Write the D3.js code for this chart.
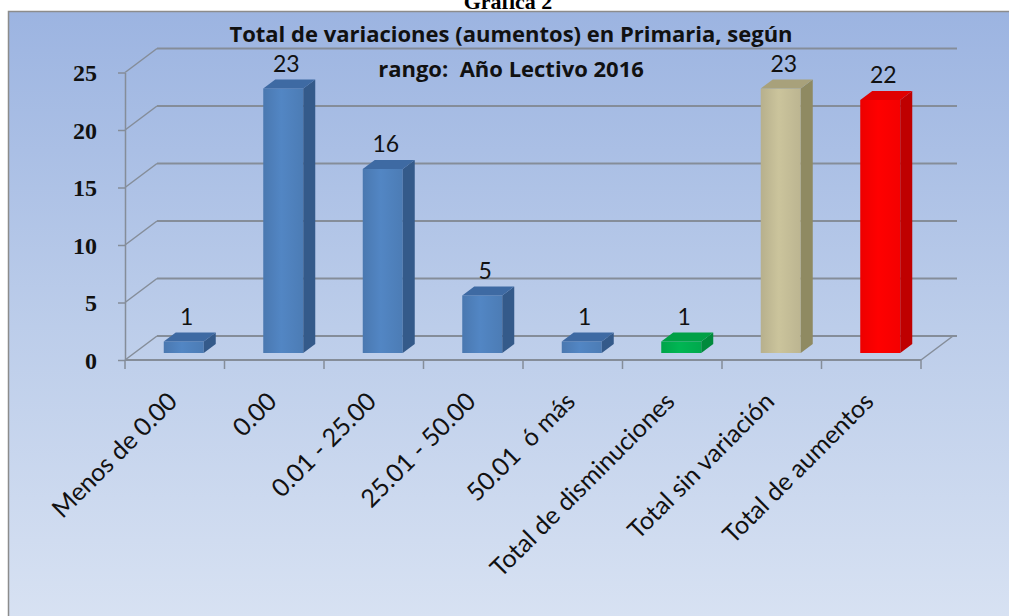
<!DOCTYPE html>
<html>
<head>
<meta charset="utf-8">
<script src="https://cdn.jsdelivr.net/npm/d3@7"></script>
<style>
  body { margin: 0; background: #fff; }
  svg { display: block; }
</style>
</head>
<body>
<svg id="chart"></svg>
<script>
let width = 1009;
let height = 616;

// datos
const categories = ["Menos de 0.00", "0.00", "0.01 - 25.00", "25.01 - 50.00", "50.01  ó más",
    "Total de disminuciones", "Total sin variación", "Total de aumentos"];
const values = [1, 23, 16, 5, 1, 1, 23, 22];
const yTicks = [0, 5, 10, 15, 20, 25];
const titleLines = ["Total de variaciones (aumentos) en Primaria, según", "rango:  Año Lectivo 2016"];
const caption = "Gráfica 2";

let barData = [];
for (let i = 0; i < categories.length; i++) {
    barData.push({ label: categories[i], value: values[i] });
}

// geometría del "3D"
let wallDx = 32, wallDy = -24;   // desplazamiento de la pared del fondo
let barDx = 9, barDy = -7;       // posición de las barras en profundidad
let sideDx = 12, sideDy = -9;    // grosor de las barras
let barW = 40;

let svg = d3.select("#chart")
    .attr("width", width)
    .attr("height", height);

let defs = svg.append("defs");

let bg = defs.append("linearGradient")
    .attr("id", "bg")
    .attr("x1", 0).attr("y1", 0).attr("x2", 0).attr("y2", 1);
bg.append("stop").attr("offset", "0%").attr("stop-color", "#9cb4e1");
bg.append("stop").attr("offset", "45%").attr("stop-color", "#bccdea");
bg.append("stop").attr("offset", "100%").attr("stop-color", "#e0e8f5");

// colores por categoría: frente, lado, tapa
let palette = d3.scaleOrdinal()
    .domain(categories)
    .range([
        ["#4f81bd", "#345a8a", "#3e6aa3"],
        ["#4f81bd", "#345a8a", "#3e6aa3"],
        ["#4f81bd", "#345a8a", "#3e6aa3"],
        ["#4f81bd", "#345a8a", "#3e6aa3"],
        ["#4f81bd", "#345a8a", "#3e6aa3"],
        ["#00b050", "#008a3c", "#00a046"],
        ["#c4bd97", "#8f8a62", "#a8a17b"],
        ["#ff0000", "#bf0000", "#e00000"]
    ]);

categories.forEach(function (c, i) {
    let cols = palette(c);
    let g = defs.append("linearGradient")
        .attr("id", "front" + i)
        .attr("x1", 0).attr("y1", 0).attr("x2", 1).attr("y2", 0);
    g.append("stop").attr("offset", "0%").attr("stop-color", d3.color(cols[0]).darker(0.2));
    g.append("stop").attr("offset", "45%").attr("stop-color", d3.color(cols[0]).brighter(0.1));
    g.append("stop").attr("offset", "100%").attr("stop-color", d3.color(cols[0]).darker(0.12));
});

// fondo del área del gráfico
svg.append("rect")
    .attr("x", 8.5)
    .attr("y", 11.5)
    .attr("width", 1100)
    .attr("height", 700)
    .attr("fill", "url(#bg)")
    .attr("stroke", "#8c8c8c")
    .attr("stroke-width", 1.5);

svg.append("text")
    .attr("x", 508)
    .attr("y", 9)
    .attr("text-anchor", "middle")
    .style("font-family", "'Liberation Serif', serif")
    .style("font-weight", "bold")
    .style("font-size", "22px")
    .text(caption);

// escalas (eje frontal)
let scaleX = d3.scaleBand()
    .domain(categories)
    .range([125, 921]);

let scaleY = d3.scaleLinear()
    .domain([0, 25])
    .range([360, 72.5]);

let gridColor = "#858d99";

// líneas de la pared y el suelo
let grid = svg.append("g");
grid.selectAll(".diag")
    .data(yTicks)
    .enter()
    .append("line")
    .attr("x1", scaleX.range()[0])
    .attr("y1", d => scaleY(d))
    .attr("x2", scaleX.range()[0] + wallDx)
    .attr("y2", d => scaleY(d) + wallDy)
    .attr("stroke", gridColor)
    .attr("stroke-width", 1.5);

grid.selectAll(".wall")
    .data(yTicks)
    .enter()
    .append("line")
    .attr("x1", scaleX.range()[0] + wallDx)
    .attr("y1", d => scaleY(d) + wallDy)
    .attr("x2", scaleX.range()[1] + wallDx + 4)
    .attr("y2", d => scaleY(d) + wallDy)
    .attr("stroke", gridColor)
    .attr("stroke-width", 2);

// borde derecho del suelo
grid.append("line")
    .attr("x1", scaleX.range()[1])
    .attr("y1", scaleY(0))
    .attr("x2", scaleX.range()[1] + wallDx)
    .attr("y2", scaleY(0) + wallDy)
    .attr("stroke", gridColor)
    .attr("stroke-width", 1.5);

// eje Y frontal
let axisY = d3.axisLeft(scaleY)
    .tickValues(yTicks)
    .tickSize(7)
    .tickSizeOuter(0)
    .tickPadding(21);

let gy = svg.append("g")
    .attr("transform", `translate(${scaleX.range()[0]}, 0)`)
    .call(axisY);
gy.select(".domain").attr("stroke", gridColor).attr("stroke-width", 1.5);
gy.selectAll(".tick line").attr("stroke", gridColor).attr("stroke-width", 1.5);
gy.selectAll(".tick text")
    .attr("font-family", "'Liberation Serif', 'DejaVu Serif', serif")
    .style("font-family", "'Liberation Serif', 'DejaVu Serif', serif")
    .style("font-weight", "bold")
    .style("font-size", "24px")
    .attr("fill", "#111")
    .attr("dy", "0.34em");

// eje X frontal: línea y marcas entre categorías
let edges = categories.map(d => scaleX(d)).concat([scaleX.range()[1]]);
svg.append("line")
    .attr("x1", scaleX.range()[0])
    .attr("y1", scaleY(0))
    .attr("x2", scaleX.range()[1])
    .attr("y2", scaleY(0))
    .attr("stroke", gridColor)
    .attr("stroke-width", 2);
svg.selectAll(".xtick")
    .data(edges)
    .enter()
    .append("line")
    .attr("x1", d => d)
    .attr("x2", d => d)
    .attr("y1", scaleY(0))
    .attr("y2", scaleY(0) + 9)
    .attr("stroke", gridColor)
    .attr("stroke-width", 1.5);

// barras
function cx(d) { return scaleX(d.label) + scaleX.bandwidth() / 2 + barDx; }
function yTop(d) { return scaleY(d.value) + barDy; }
let yBase = scaleY(0) + barDy;

let bars = svg.append("g").selectAll("g")
    .data(barData)
    .enter()
    .append("g");

bars.append("rect")
    .attr("x", d => cx(d) - barW / 2)
    .attr("y", d => yTop(d))
    .attr("width", barW)
    .attr("height", d => yBase - yTop(d))
    .attr("fill", (d, i) => `url(#front${i})`);

bars.append("path")
    .attr("d", function (d) {
        let x1 = cx(d) + barW / 2;
        return `M${x1},${yBase} L${x1 + sideDx},${yBase + sideDy} L${x1 + sideDx},${yTop(d) + sideDy} L${x1},${yTop(d)} Z`;
    })
    .attr("fill", d => palette(d.label)[1]);

bars.append("path")
    .attr("d", function (d) {
        let x0 = cx(d) - barW / 2, x1 = cx(d) + barW / 2, t = yTop(d);
        return `M${x0},${t} L${x1},${t} L${x1 + sideDx},${t + sideDy} L${x0 + sideDx},${t + sideDy} Z`;
    })
    .attr("fill", d => palette(d.label)[2]);

// etiquetas de valores
bars.append("text")
    .attr("x", d => cx(d) + 3)
    .attr("y", d => yTop(d) + sideDy - 8)
    .attr("text-anchor", "middle")
    .style("font-family", "Lato, sans-serif")
    .style("font-size", "23px")
    .attr("fill", "#111")
    .text(d => d.value);

// etiquetas de categorías
svg.selectAll(".xlabel")
    .data(categories)
    .enter()
    .append("text")
    .attr("text-anchor", "end")
    .attr("transform", d => `translate(${scaleX(d) + scaleX.bandwidth() / 2 + 4}, 403) rotate(-45)`)
    .style("font-family", "Lato, sans-serif")
    .style("font-size", "25px")
    .style("white-space", "pre")
    .attr("fill", "#111")
    .text(d => d);

// título
svg.selectAll(".title")
    .data(titleLines)
    .enter()
    .append("text")
    .attr("x", 511)
    .attr("y", (d, i) => 42 + i * 35)
    .attr("text-anchor", "middle")
    .style("font-family", "'Open Sans', sans-serif")
    .style("font-weight", "bold")
    .style("font-size", "22px")
    .style("white-space", "pre")
    .attr("fill", "#111")
    .text(d => d);
</script>
</body>
</html>
